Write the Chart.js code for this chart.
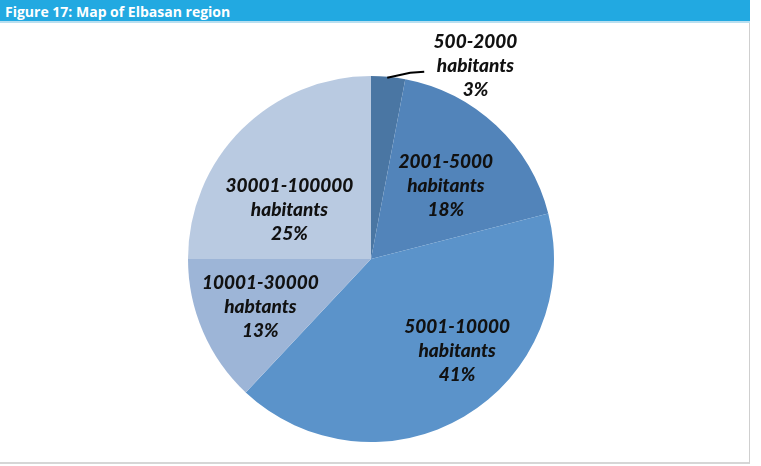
<!DOCTYPE html>
<html>
<head>
<meta charset="utf-8">
<script src="https://cdn.jsdelivr.net/npm/chart.js@4"></script>
<style>
  body { margin: 0; background: #fff; width: 761px; height: 466px; overflow: hidden; }
  #frame { position: absolute; left: 0; top: 0; width: 750px; height: 464px;
    border-right: 1px solid #cfcfcf; border-bottom: 2px solid #d6d6d6; box-sizing: border-box; }
  #head { position: absolute; left: 0; top: 0; width: 750px; height: 23px; background: #22a9e1;
    border-bottom: 2px solid #b9dff0;
    color: #fff; font: bold 14px "Open Sans", sans-serif; line-height: 23px; padding-left: 5px; box-sizing: border-box; }
  #wrap { position: absolute; left: 0; top: 24px; width: 750px; height: 440px; }
</style>
</head>
<body>
<div id="frame"></div>
<div id="head">Figure 17: Map of Elbasan region</div>
<div id="wrap"><canvas id="pie"></canvas></div>
<script>
const categories = ['500-2000', '2001-5000', '5001-10000', '10001-30000', '30001-100000'];
const units = ['habitants', 'habitants', 'habitants', 'habtants', 'habitants'];
const shares = [3, 18, 41, 13, 25];
const colors = ['#4a76a3', '#5284ba', '#5b93ca', '#9db5d7', '#b9cae1'];

// where each label sits: angle (deg from top, clockwise) and distance as a fraction of radius
const labelPos = [
  { ang: 28.4, r: 1.20, leader: true },
  { ang: 45.8, r: 0.57 },
  { ang: 137, r: 0.69 },
  { ang: 246.4, r: 0.66 },
  { ang: 301, r: 0.52 }
];

const labelPlugin = {
  id: 'pieLabels',
  afterDatasetsDraw(chart) {
    const ctx = chart.ctx;
    const meta = chart.getDatasetMeta(0);
    ctx.save();
    ctx.font = 'italic 900 19px Lato, sans-serif';
    ctx.fillStyle = '#111';
    ctx.textAlign = 'center';
    ctx.textBaseline = 'middle';
    meta.data.forEach((arc, i) => {
      const cx = arc.x, cy = arc.y, R = arc.outerRadius;
      const p = labelPos[i];
      const a = (p.ang - 90) * Math.PI / 180;
      const lx = cx + Math.cos(a) * R * p.r;
      const ly = cy + Math.sin(a) * R * p.r;
      if (p.leader) {
        const mid = (arc.startAngle + arc.endAngle) / 2;
        const sx = cx + Math.cos(mid) * R, sy = cy + Math.sin(mid) * R;
        ctx.strokeStyle = '#000';
        ctx.lineWidth = 2;
        ctx.beginPath();
        ctx.moveTo(sx - 1, sy + 1);
        ctx.lineTo(sx + 22, sy - 4);
        ctx.lineTo(sx + 36, sy - 5);
        ctx.stroke();
      }
      const lines = [categories[i], units[i], shares[i] + '%'];
      lines.forEach((t, k) => ctx.fillText(t, lx, ly + (k - 1) * 24));
    });
    ctx.restore();
  }
};

new Chart(document.getElementById('pie'), {
  type: 'pie',
  data: {
    labels: categories,
    datasets: [{ data: shares, backgroundColor: colors, borderWidth: 0 }]
  },
  options: {
    responsive: true,
    maintainAspectRatio: false,
    animation: false,
    layout: { padding: { left: 188, right: 196, top: 52, bottom: 22 } },
    plugins: { legend: { display: false }, tooltip: { enabled: false } }
  },
  plugins: [labelPlugin]
});
</script>
</body>
</html>
